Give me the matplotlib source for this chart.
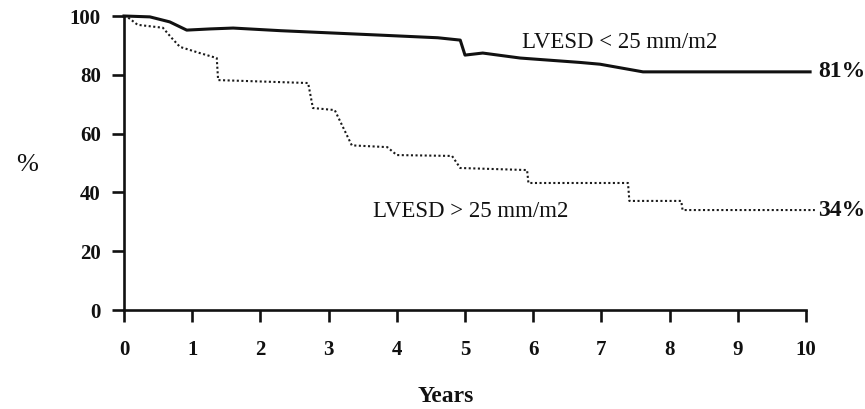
import matplotlib
matplotlib.use("Agg")
import matplotlib.pyplot as plt

# Survival curves (years, % event-free)
years_small = [0, 0.38, 0.67, 0.92, 1.26, 1.6, 2.3, 3.75, 4.6, 4.93, 5.0,
               5.26, 5.81, 6.69, 6.98, 7.61, 10.06]
surv_small = [100, 99.7, 98.0, 95.2, 95.6, 95.9, 95.0, 93.5, 92.6, 91.8, 86.7,
              87.4, 85.7, 84.2, 83.6, 81.0, 81.0]

years_large = [0, 0.06, 0.2, 0.57, 0.7, 0.82, 1.11, 1.36, 1.38, 2.70, 2.77,
               3.09, 3.34, 3.86, 4.00, 4.81, 4.93, 5.91, 5.93, 7.39, 7.41,
               8.17, 8.19, 10.13]
surv_large = [100, 99.5, 97.0, 96.0, 92.5, 89.5, 87.4, 85.7, 78.2, 77.2, 68.7,
              68.0, 56.0, 55.4, 52.7, 52.4, 48.3, 47.6, 43.2, 43.2, 37.1,
              37.1, 34.0, 34.0]

label_small = "LVESD < 25 mm/m2"
label_large = "LVESD > 25 mm/m2"
x_ticks = list(range(0, 11))
y_ticks = [0, 20, 40, 60, 80, 100]

serif = ["Liberation Serif", "DejaVu Serif"]
ink = "#111111"

fig = plt.figure(figsize=(8.65, 4.09), dpi=100)
W, H = 865, 409
ax = fig.add_axes([124 / W, 1 - 310 / H, (806 - 124) / W, (310 - 16) / H])

ax.plot(years_small, surv_small, color=ink, lw=2.2, clip_on=False,
        solid_joinstyle="round")
ax.plot(years_large, surv_large, color="#1a1a1a", lw=1.5,
        linestyle=(0, (1.0, 1.2)), clip_on=False)

ax.set_xlim(0, 10)
ax.set_ylim(0, 100)
for side in ("top", "right"):
    ax.spines[side].set_visible(False)
for side in ("left", "bottom"):
    ax.spines[side].set_linewidth(1.9)
    ax.spines[side].set_color(ink)

ax.set_xticks(x_ticks)
ax.set_yticks(y_ticks)
ax.tick_params(direction="out", length=8.6, width=1.9, color=ink)
ax.tick_params(axis="x", pad=13)
ax.tick_params(axis="y", pad=8)
for lab in ax.get_xticklabels() + ax.get_yticklabels():
    lab.set_fontfamily(serif)
    lab.set_fontweight("bold")
    lab.set_fontsize(15)
    lab.set_color(ink)

# Curve annotations
ax.text(5.84, 89.1, label_small, family=serif, fontsize=16.5, color=ink,
        ha="left", va="baseline")
ax.text(3.65, 31.6, label_large, family=serif, fontsize=16.5, color=ink,
        ha="left", va="baseline")
ax.text(10.18, surv_small[-1], f"{surv_small[-1]:.0f}%", family=serif,
        fontsize=17, fontweight="bold", color=ink, ha="left", va="center",
        clip_on=False)
ax.text(10.18, surv_large[-1], f"{surv_large[-1]:.0f}%", family=serif,
        fontsize=17, fontweight="bold", color=ink, ha="left", va="center",
        clip_on=False)

fig.text(27 / W, 1 - 165 / H, "%", family=serif, fontsize=19, color=ink,
         ha="center", va="center")
fig.text(446 / W, 1 - 396 / H, "Years", family=serif, fontsize=17,
         fontweight="bold", color=ink, ha="center", va="center")

fig.savefig("out.png", dpi=100)
